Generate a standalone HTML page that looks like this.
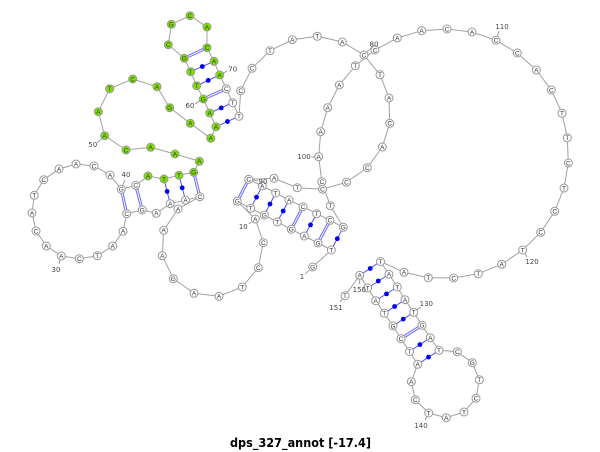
<!DOCTYPE html>
<html><head><meta charset="utf-8"><style>
html,body{margin:0;padding:0;background:#fff}
svg{display:block}
.n circle{fill:#fff;stroke:#999;stroke-width:1}
.g circle{fill:#7fe000;stroke:#999;stroke-width:1}
.n text,.g text{font:6.5px "Liberation Sans",sans-serif;fill:#333;text-anchor:middle}
.l{font:7px "DejaVu Sans","Liberation Sans",sans-serif;fill:#444;text-anchor:middle}
.p line{stroke:#5050ff;stroke-width:1}
.d line{stroke:#6a6aff;stroke-width:3}
.w line{stroke:#fff;stroke-width:1}
.t line{stroke:#888;stroke-width:.8}
.dots circle{fill:#0000f0}
</style></head><body>
<svg width="600" height="452" viewBox="0 0 600 452" xmlns="http://www.w3.org/2000/svg">
<polyline fill="none" stroke="#a0a0a0" stroke-width="1" points="312.7,267 331.3,250 318,243 304.3,236 291.3,229.3 277.3,222 264.3,215 250.7,208.3 237.3,201.3 255.3,219 263.3,242.7 258.3,267.7 242.3,287 219,296.3 194,293.3 173.3,278.7 162.3,255.7 163.7,230.3 178,209 199.8,196.7 185.5,200.2 170.2,203.7 156.3,213.3 142.3,210 126.7,213.7 123,231.3 112.7,246 97.3,255.7 79.3,258.7 61.3,256 46.3,246 36,231 32,213 34.3,195.3 43.7,179.7 59,169 76,164 94,166 110,175 121.3,189.3 135.7,185.3 148,176 164,179 179,175.3 193.7,172.3 199.3,161.3 175,154 150.7,147.3 126,150 104.7,135.7 98.3,111.7 109.7,88.7 132.7,79 157,86.7 169.7,107.7 190.3,123.3 210.7,138.3 216,126.7 209.7,113 203.3,99 196.7,85.7 190.7,71.7 184.3,58.3 168.3,44.7 171.3,24.3 190,15.7 207,27 207,47.7 214,61.3 219.7,75 226.3,88.7 232.7,102.7 239,116.3 240.7,90.7 252,68.3 270,50.7 292.3,39.7 317.3,36.3 342.3,42 364,55 380,74.7 389,98 389.7,123.3 382.3,147 367.3,167.7 346.5,182.2 322.5,189.2 297.3,187.7 274,178.3 248.7,179.3 262.3,186 275.7,193 289,200 303,206.7 316.7,213.7 330,220.3 343.3,227.3 330.3,205.7 321.8,181.7 318.7,156.7 320.7,131.7 327.7,107.7 339.3,85 355.3,65.7 375,50 397.3,38 421.7,30.7 447,29 472,32 496,40.3 517.3,53 536.3,70 551.3,90 562,113.3 567.3,137.7 568.3,163 564,188 554.7,211.3 540.7,232.3 522.7,250 501.7,264.3 478.3,273.7 453.7,278 428.3,277.7 404,272.3 380.5,261.5 389,274.3 397.3,287 405,299.7 413.7,312.3 422,325.3 430.3,337.7 439,350.3 457.3,351.7 472.3,362.7 479.3,379.7 476,398.3 464,412 446.3,417.7 428.7,413 415.3,399.7 411.3,381.7 417.7,364.3 409.5,351.5 401,338.7 393,326 384.3,313.3 375.7,300.7 367.7,288 359.7,275.3 345,295.7"/>
<g class="t">
<line x1="309" y1="270.5" x2="305" y2="274"/><line x1="255" y1="219" x2="249" y2="224"/><line x1="61" y1="256" x2="59" y2="264"/><line x1="121" y1="189" x2="125" y2="180"/><line x1="105" y1="136" x2="97" y2="143"/><line x1="203" y1="99" x2="195" y2="104"/><line x1="220" y1="75" x2="227" y2="71"/><line x1="364" y1="55" x2="372" y2="47"/><line x1="249" y1="179" x2="258" y2="181"/><line x1="319" y1="157" x2="311" y2="157"/><line x1="496" y1="40" x2="499" y2="31"/><line x1="523" y1="250" x2="527" y2="257"/><line x1="414" y1="312" x2="421" y2="307"/><line x1="429" y1="413" x2="425" y2="420"/><line x1="360" y1="275" x2="359.5" y2="284"/><line x1="345" y1="296" x2="340" y2="302"/>
</g>
<g class="p">
<line x1="331.3" y1="250" x2="343.3" y2="227.3"/><line x1="304.3" y1="236" x2="316.7" y2="213.7"/><line x1="277.3" y1="222" x2="289" y2="200"/><line x1="264.3" y1="215" x2="275.7" y2="193"/><line x1="250.7" y1="208.3" x2="262.3" y2="186"/><line x1="164" y1="179" x2="170.2" y2="203.7"/><line x1="179" y1="175.3" x2="185.5" y2="200.2"/><line x1="216" y1="126.7" x2="239" y2="116.3"/><line x1="209.7" y1="113" x2="232.7" y2="102.7"/><line x1="196.7" y1="85.7" x2="219.7" y2="75"/><line x1="190.7" y1="71.7" x2="214" y2="61.3"/><line x1="380.5" y1="261.5" x2="359.7" y2="275.3"/><line x1="389" y1="274.3" x2="367.7" y2="288"/><line x1="397.3" y1="287" x2="375.7" y2="300.7"/><line x1="405" y1="299.7" x2="384.3" y2="313.3"/><line x1="413.7" y1="312.3" x2="393" y2="326"/><line x1="430.3" y1="337.7" x2="409.5" y2="351.5"/><line x1="439" y1="350.3" x2="417.7" y2="364.3"/>
</g>
<g class="d">
<line x1="318" y1="243" x2="330" y2="220.3"/><line x1="291.3" y1="229.3" x2="303" y2="206.7"/><line x1="237.3" y1="201.3" x2="248.7" y2="179.3"/><line x1="126.7" y1="213.7" x2="121.3" y2="189.3"/><line x1="142.3" y1="210" x2="135.7" y2="185.3"/><line x1="193.7" y1="172.3" x2="199.8" y2="196.7"/><line x1="203.3" y1="99" x2="226.3" y2="88.7"/><line x1="184.3" y1="58.3" x2="207" y2="47.7"/><line x1="422" y1="325.3" x2="401" y2="338.7"/>
</g>
<g class="w">
<line x1="318" y1="243" x2="330" y2="220.3"/><line x1="291.3" y1="229.3" x2="303" y2="206.7"/><line x1="237.3" y1="201.3" x2="248.7" y2="179.3"/><line x1="126.7" y1="213.7" x2="121.3" y2="189.3"/><line x1="142.3" y1="210" x2="135.7" y2="185.3"/><line x1="193.7" y1="172.3" x2="199.8" y2="196.7"/><line x1="203.3" y1="99" x2="226.3" y2="88.7"/><line x1="184.3" y1="58.3" x2="207" y2="47.7"/><line x1="422" y1="325.3" x2="401" y2="338.7"/>
</g>
<g class="dots">
<circle cx="337.3" cy="238.7" r="2.4"/><circle cx="310.5" cy="224.9" r="2.4"/><circle cx="283.2" cy="211" r="2.4"/><circle cx="270" cy="204" r="2.4"/><circle cx="256.5" cy="197.2" r="2.4"/><circle cx="167.1" cy="191.4" r="2.4"/><circle cx="182.2" cy="187.8" r="2.4"/><circle cx="227.5" cy="121.5" r="2.4"/><circle cx="221.2" cy="107.9" r="2.4"/><circle cx="208.2" cy="80.4" r="2.4"/><circle cx="202.3" cy="66.5" r="2.4"/><circle cx="370.2" cy="268.5" r="2.4"/><circle cx="378.3" cy="281" r="2.4"/><circle cx="386.5" cy="293.9" r="2.4"/><circle cx="394.6" cy="306.5" r="2.4"/><circle cx="403.3" cy="319.1" r="2.4"/><circle cx="419.9" cy="344.6" r="2.4"/><circle cx="428.5" cy="357.1" r="2.4"/>
</g>
<g class="n">
<circle cx="312.7" cy="267" r="4"/><text x="312.7" y="269.3">G</text>
<circle cx="331.3" cy="250" r="4"/><text x="331.3" y="252.3">T</text>
<circle cx="318" cy="243" r="4"/><text x="318" y="245.3">G</text>
<circle cx="304.3" cy="236" r="4"/><text x="304.3" y="238.3">A</text>
<circle cx="291.3" cy="229.3" r="4"/><text x="291.3" y="231.6">G</text>
<circle cx="277.3" cy="222" r="4"/><text x="277.3" y="224.3">T</text>
<circle cx="264.3" cy="215" r="4"/><text x="264.3" y="217.3">G</text>
<circle cx="250.7" cy="208.3" r="4"/><text x="250.7" y="210.6">T</text>
<circle cx="237.3" cy="201.3" r="4"/><text x="237.3" y="203.6">G</text>
<circle cx="255.3" cy="219" r="4"/><text x="255.3" y="221.3">A</text>
<circle cx="263.3" cy="242.7" r="4"/><text x="263.3" y="245">C</text>
<circle cx="258.3" cy="267.7" r="4"/><text x="258.3" y="270">C</text>
<circle cx="242.3" cy="287" r="4"/><text x="242.3" y="289.3">T</text>
<circle cx="219" cy="296.3" r="4"/><text x="219" y="298.6">A</text>
<circle cx="194" cy="293.3" r="4"/><text x="194" y="295.6">A</text>
<circle cx="173.3" cy="278.7" r="4"/><text x="173.3" y="281">G</text>
<circle cx="162.3" cy="255.7" r="4"/><text x="162.3" y="258">A</text>
<circle cx="163.7" cy="230.3" r="4"/><text x="163.7" y="232.6">A</text>
<circle cx="178" cy="209" r="4"/><text x="178" y="211.3">A</text>
<circle cx="199.8" cy="196.7" r="4"/><text x="199.8" y="199">C</text>
<circle cx="185.5" cy="200.2" r="4"/><text x="185.5" y="202.5">A</text>
<circle cx="170.2" cy="203.7" r="4"/><text x="170.2" y="206">A</text>
<circle cx="156.3" cy="213.3" r="4"/><text x="156.3" y="215.6">A</text>
<circle cx="142.3" cy="210" r="4"/><text x="142.3" y="212.3">G</text>
<circle cx="126.7" cy="213.7" r="4"/><text x="126.7" y="216">C</text>
<circle cx="123" cy="231.3" r="4"/><text x="123" y="233.6">A</text>
<circle cx="112.7" cy="246" r="4"/><text x="112.7" y="248.3">A</text>
<circle cx="97.3" cy="255.7" r="4"/><text x="97.3" y="258">T</text>
<circle cx="79.3" cy="258.7" r="4"/><text x="79.3" y="261">C</text>
<circle cx="61.3" cy="256" r="4"/><text x="61.3" y="258.3">A</text>
<circle cx="46.3" cy="246" r="4"/><text x="46.3" y="248.3">A</text>
<circle cx="36" cy="231" r="4"/><text x="36" y="233.3">C</text>
<circle cx="32" cy="213" r="4"/><text x="32" y="215.3">A</text>
<circle cx="34.3" cy="195.3" r="4"/><text x="34.3" y="197.6">T</text>
<circle cx="43.7" cy="179.7" r="4"/><text x="43.7" y="182">C</text>
<circle cx="59" cy="169" r="4"/><text x="59" y="171.3">A</text>
<circle cx="76" cy="164" r="4"/><text x="76" y="166.3">A</text>
<circle cx="94" cy="166" r="4"/><text x="94" y="168.3">C</text>
<circle cx="110" cy="175" r="4"/><text x="110" y="177.3">A</text>
<circle cx="121.3" cy="189.3" r="4"/><text x="121.3" y="191.6">G</text>
<circle cx="135.7" cy="185.3" r="4"/><text x="135.7" y="187.6">C</text>
</g>
<g class="g">
<circle cx="148" cy="176" r="4"/><text x="148" y="178.3">A</text>
<circle cx="164" cy="179" r="4"/><text x="164" y="181.3">T</text>
<circle cx="179" cy="175.3" r="4"/><text x="179" y="177.6">T</text>
<circle cx="193.7" cy="172.3" r="4"/><text x="193.7" y="174.6">G</text>
<circle cx="199.3" cy="161.3" r="4"/><text x="199.3" y="163.6">A</text>
<circle cx="175" cy="154" r="4"/><text x="175" y="156.3">A</text>
<circle cx="150.7" cy="147.3" r="4"/><text x="150.7" y="149.6">A</text>
<circle cx="126" cy="150" r="4"/><text x="126" y="152.3">C</text>
<circle cx="104.7" cy="135.7" r="4"/><text x="104.7" y="138">A</text>
<circle cx="98.3" cy="111.7" r="4"/><text x="98.3" y="114">A</text>
<circle cx="109.7" cy="88.7" r="4"/><text x="109.7" y="91">T</text>
<circle cx="132.7" cy="79" r="4"/><text x="132.7" y="81.3">C</text>
<circle cx="157" cy="86.7" r="4"/><text x="157" y="89">A</text>
<circle cx="169.7" cy="107.7" r="4"/><text x="169.7" y="110">G</text>
<circle cx="190.3" cy="123.3" r="4"/><text x="190.3" y="125.6">A</text>
<circle cx="210.7" cy="138.3" r="4"/><text x="210.7" y="140.6">A</text>
<circle cx="216" cy="126.7" r="4"/><text x="216" y="129">A</text>
<circle cx="209.7" cy="113" r="4"/><text x="209.7" y="115.3">A</text>
<circle cx="203.3" cy="99" r="4"/><text x="203.3" y="101.3">G</text>
<circle cx="196.7" cy="85.7" r="4"/><text x="196.7" y="88">T</text>
<circle cx="190.7" cy="71.7" r="4"/><text x="190.7" y="74">T</text>
<circle cx="184.3" cy="58.3" r="4"/><text x="184.3" y="60.6">G</text>
<circle cx="168.3" cy="44.7" r="4"/><text x="168.3" y="47">C</text>
<circle cx="171.3" cy="24.3" r="4"/><text x="171.3" y="26.6">G</text>
<circle cx="190" cy="15.7" r="4"/><text x="190" y="18">C</text>
<circle cx="207" cy="27" r="4"/><text x="207" y="29.3">A</text>
<circle cx="207" cy="47.7" r="4"/><text x="207" y="50">C</text>
<circle cx="214" cy="61.3" r="4"/><text x="214" y="63.6">A</text>
<circle cx="219.7" cy="75" r="4"/><text x="219.7" y="77.3">A</text>
</g>
<g class="n">
<circle cx="226.3" cy="88.7" r="4"/><text x="226.3" y="91">C</text>
<circle cx="232.7" cy="102.7" r="4"/><text x="232.7" y="105">T</text>
<circle cx="239" cy="116.3" r="4"/><text x="239" y="118.6">T</text>
<circle cx="240.7" cy="90.7" r="4"/><text x="240.7" y="93">C</text>
<circle cx="252" cy="68.3" r="4"/><text x="252" y="70.6">C</text>
<circle cx="270" cy="50.7" r="4"/><text x="270" y="53">T</text>
<circle cx="292.3" cy="39.7" r="4"/><text x="292.3" y="42">A</text>
<circle cx="317.3" cy="36.3" r="4"/><text x="317.3" y="38.6">T</text>
<circle cx="342.3" cy="42" r="4"/><text x="342.3" y="44.3">A</text>
<circle cx="380" cy="74.7" r="4"/><text x="380" y="77">T</text>
<circle cx="389" cy="98" r="4"/><text x="389" y="100.3">A</text>
<circle cx="389.7" cy="123.3" r="4"/><text x="389.7" y="125.6">C</text>
<circle cx="382.3" cy="147" r="4"/><text x="382.3" y="149.3">A</text>
<circle cx="367.3" cy="167.7" r="4"/><text x="367.3" y="170">C</text>
<circle cx="346.5" cy="182.2" r="4"/><text x="346.5" y="184.5">C</text>
<circle cx="321.8" cy="181.7" r="4"/><text x="321.8" y="184">C</text>
<circle cx="322.5" cy="189.2" r="4"/><text x="322.5" y="191.5">C</text>
<circle cx="297.3" cy="187.7" r="4"/><text x="297.3" y="190">T</text>
<circle cx="274" cy="178.3" r="4"/><text x="274" y="180.6">A</text>
<circle cx="248.7" cy="179.3" r="4"/><text x="248.7" y="181.6">C</text>
<circle cx="262.3" cy="186" r="4"/><text x="262.3" y="188.3">A</text>
<circle cx="275.7" cy="193" r="4"/><text x="275.7" y="195.3">T</text>
<circle cx="289" cy="200" r="4"/><text x="289" y="202.3">A</text>
<circle cx="303" cy="206.7" r="4"/><text x="303" y="209">C</text>
<circle cx="316.7" cy="213.7" r="4"/><text x="316.7" y="216">T</text>
<circle cx="330" cy="220.3" r="4"/><text x="330" y="222.6">C</text>
<circle cx="343.3" cy="227.3" r="4"/><text x="343.3" y="229.6">G</text>
<circle cx="330.3" cy="205.7" r="4"/><text x="330.3" y="208">T</text>
<circle cx="318.7" cy="156.7" r="4"/><text x="318.7" y="159">A</text>
<circle cx="320.7" cy="131.7" r="4"/><text x="320.7" y="134">A</text>
<circle cx="327.7" cy="107.7" r="4"/><text x="327.7" y="110">A</text>
<circle cx="339.3" cy="85" r="4"/><text x="339.3" y="87.3">A</text>
<circle cx="355.3" cy="65.7" r="4"/><text x="355.3" y="68">T</text>
<circle cx="375" cy="50" r="4"/><text x="375" y="52.3">C</text>
<circle cx="364" cy="55" r="4"/><text x="364" y="57.3">C</text>
<circle cx="397.3" cy="38" r="4"/><text x="397.3" y="40.3">A</text>
<circle cx="421.7" cy="30.7" r="4"/><text x="421.7" y="33">A</text>
<circle cx="447" cy="29" r="4"/><text x="447" y="31.3">C</text>
<circle cx="472" cy="32" r="4"/><text x="472" y="34.3">A</text>
<circle cx="496" cy="40.3" r="4"/><text x="496" y="42.6">C</text>
<circle cx="517.3" cy="53" r="4"/><text x="517.3" y="55.3">C</text>
<circle cx="536.3" cy="70" r="4"/><text x="536.3" y="72.3">A</text>
<circle cx="551.3" cy="90" r="4"/><text x="551.3" y="92.3">C</text>
<circle cx="562" cy="113.3" r="4"/><text x="562" y="115.6">T</text>
<circle cx="567.3" cy="137.7" r="4"/><text x="567.3" y="140">T</text>
<circle cx="568.3" cy="163" r="4"/><text x="568.3" y="165.3">C</text>
<circle cx="564" cy="188" r="4"/><text x="564" y="190.3">T</text>
<circle cx="554.7" cy="211.3" r="4"/><text x="554.7" y="213.6">C</text>
<circle cx="540.7" cy="232.3" r="4"/><text x="540.7" y="234.6">C</text>
<circle cx="522.7" cy="250" r="4"/><text x="522.7" y="252.3">T</text>
<circle cx="501.7" cy="264.3" r="4"/><text x="501.7" y="266.6">A</text>
<circle cx="478.3" cy="273.7" r="4"/><text x="478.3" y="276">T</text>
<circle cx="453.7" cy="278" r="4"/><text x="453.7" y="280.3">C</text>
<circle cx="428.3" cy="277.7" r="4"/><text x="428.3" y="280">T</text>
<circle cx="404" cy="272.3" r="4"/><text x="404" y="274.6">A</text>
<circle cx="380.5" cy="261.5" r="4"/><text x="380.5" y="263.8">T</text>
<circle cx="389" cy="274.3" r="4"/><text x="389" y="276.6">A</text>
<circle cx="397.3" cy="287" r="4"/><text x="397.3" y="289.3">T</text>
<circle cx="405" cy="299.7" r="4"/><text x="405" y="302">A</text>
<circle cx="413.7" cy="312.3" r="4"/><text x="413.7" y="314.6">T</text>
<circle cx="422" cy="325.3" r="4"/><text x="422" y="327.6">G</text>
<circle cx="430.3" cy="337.7" r="4"/><text x="430.3" y="340">A</text>
<circle cx="439" cy="350.3" r="4"/><text x="439" y="352.6">T</text>
<circle cx="457.3" cy="351.7" r="4"/><text x="457.3" y="354">C</text>
<circle cx="472.3" cy="362.7" r="4"/><text x="472.3" y="365">G</text>
<circle cx="479.3" cy="379.7" r="4"/><text x="479.3" y="382">T</text>
<circle cx="476" cy="398.3" r="4"/><text x="476" y="400.6">C</text>
<circle cx="464" cy="412" r="4"/><text x="464" y="414.3">T</text>
<circle cx="446.3" cy="417.7" r="4"/><text x="446.3" y="420">A</text>
<circle cx="428.7" cy="413" r="4"/><text x="428.7" y="415.3">T</text>
<circle cx="415.3" cy="399.7" r="4"/><text x="415.3" y="402">C</text>
<circle cx="411.3" cy="381.7" r="4"/><text x="411.3" y="384">A</text>
<circle cx="417.7" cy="364.3" r="4"/><text x="417.7" y="366.6">A</text>
<circle cx="409.5" cy="351.5" r="4"/><text x="409.5" y="353.8">T</text>
<circle cx="401" cy="338.7" r="4"/><text x="401" y="341">C</text>
<circle cx="393" cy="326" r="4"/><text x="393" y="328.3">G</text>
<circle cx="384.3" cy="313.3" r="4"/><text x="384.3" y="315.6">T</text>
<circle cx="375.7" cy="300.7" r="4"/><text x="375.7" y="303">A</text>
<circle cx="367.7" cy="288" r="4"/><text x="367.7" y="290.3">T</text>
<circle cx="359.7" cy="275.3" r="4"/><text x="359.7" y="277.6">A</text>
<circle cx="345" cy="295.7" r="4"/><text x="345" y="298">T</text>
</g>
<g>
<text class="l" x="302" y="279.2">1</text>
<text class="l" x="243.3" y="229.2">10</text>
<text class="l" x="56" y="271.8">30</text>
<text class="l" x="126" y="177.2">40</text>
<text class="l" x="92.7" y="147.2">50</text>
<text class="l" x="190" y="108.2">60</text>
<text class="l" x="232.7" y="71.5">70</text>
<text class="l" x="374" y="46.5">80</text>
<text class="l" x="263" y="183.8">90</text>
<text class="l" x="304" y="159.2">100</text>
<text class="l" x="502" y="29.2">110</text>
<text class="l" x="532" y="264.2">120</text>
<text class="l" x="426.3" y="306.2">130</text>
<text class="l" x="421" y="428.2">140</text>
<text class="l" x="359.3" y="292.2">150</text>
<text class="l" x="336" y="310.2">151</text>
</g>
<text x="230" y="447" textLength="141" lengthAdjust="spacingAndGlyphs" style="font:bold 12px 'DejaVu Sans','Liberation Sans',sans-serif;fill:#000">dps_327_annot [-17.4]</text>
</svg>
</body></html>
